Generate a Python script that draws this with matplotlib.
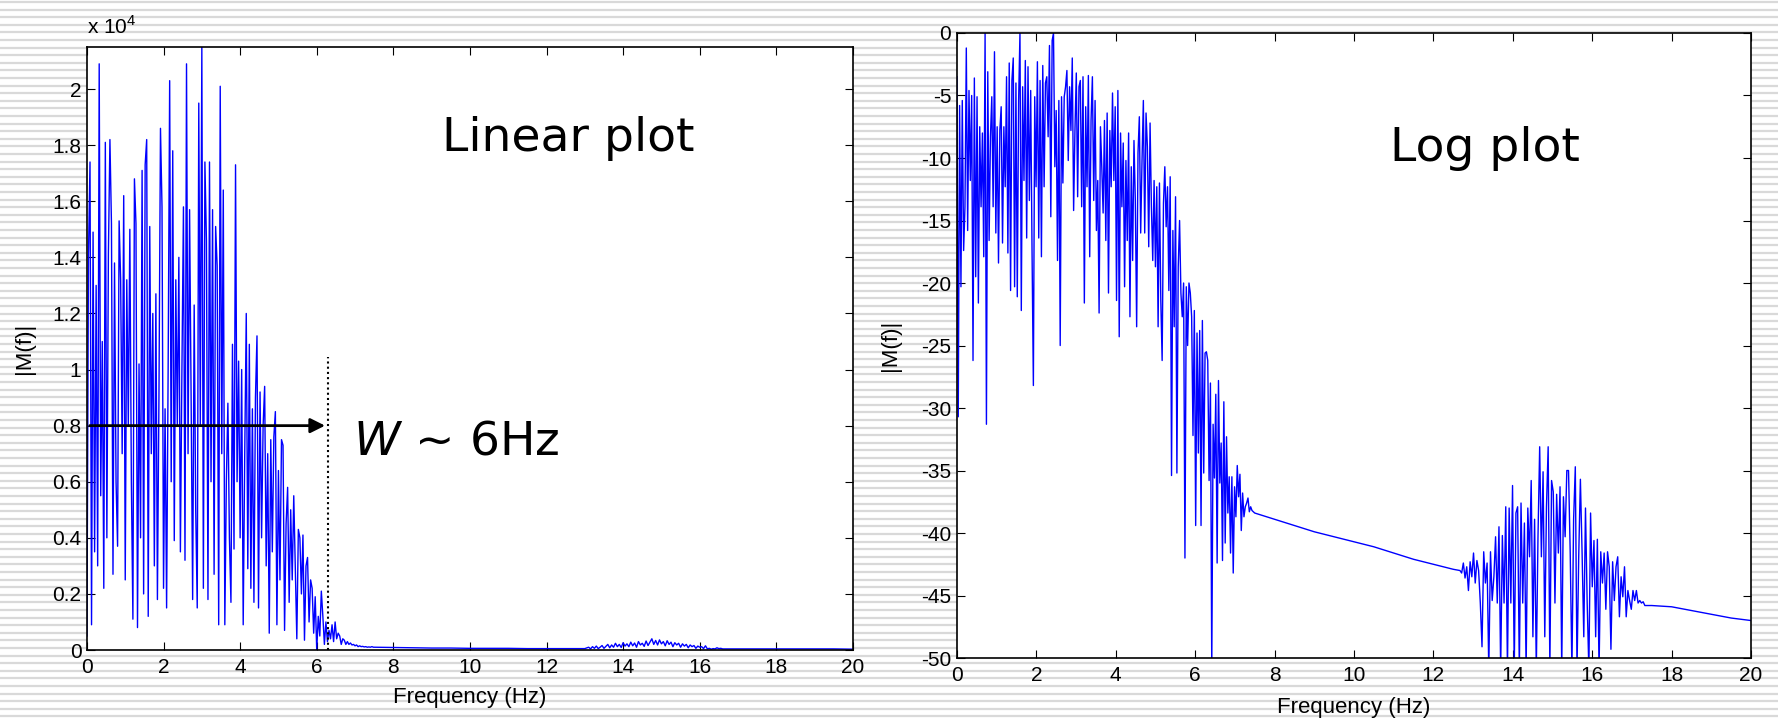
import numpy as np
import matplotlib.pyplot as plt

# spectre |M(f)| en echelle lineaire (unite 1e4), pas de 0.04 Hz de 0 a 7.48 Hz
lin_step = 0.04
lin_low = [
    0.05, 1.41, 1.74, 0.09, 1.49, 0.35, 1.30, 0.30, 2.09, 0.55,
    1.10, 0.22, 1.81, 0.40, 1.41, 1.82, 1.52, 0.27, 1.38, 0.60,
    0.37, 1.53, 1.32, 0.70, 1.62, 0.25, 1.32, 0.80, 1.50, 0.60,
    0.11, 1.68, 1.52, 0.08, 1.02, 0.40, 1.71, 0.20, 1.73, 1.82,
    0.12, 1.51, 0.70, 1.20, 0.30, 1.27, 0.18, 0.90, 1.86, 1.58,
    0.22, 0.86, 0.15, 1.00, 2.03, 0.60, 1.78, 0.39, 1.32, 0.80,
    1.40, 0.35, 1.00, 1.58, 0.32, 2.09, 0.70, 1.57, 0.90, 0.18,
    1.23, 0.50, 0.15, 1.95, 0.80, 2.15, 0.22, 1.74, 1.46, 0.18,
    1.74, 0.60, 1.57, 0.27, 1.51, 1.37, 0.09, 2.01, 0.70, 1.64,
    0.09, 0.60, 0.88, 0.40, 0.17, 1.09, 0.36, 1.73, 0.60, 1.03,
    0.40, 1.00, 0.09, 0.70, 1.20, 0.29, 1.09, 0.22, 0.86, 0.17,
    0.90, 1.12, 0.15, 0.92, 0.40, 0.80, 0.94, 0.30, 0.70, 0.06,
    0.75, 0.35, 0.76, 0.85, 0.09, 0.64, 0.25, 0.75, 0.73, 0.07,
    0.45, 0.58, 0.17, 0.50, 0.25, 0.55, 0.30, 0.04, 0.43, 0.40,
    0.20, 0.41, 0.035, 0.30, 0.33, 0.10, 0.25, 0.22, 0.06, 0.19,
    0.0, 0.12, 0.05, 0.21, 0.12, 0.02, 0.10, 0.03, 0.07, 0.04,
    0.09, 0.03, 0.10, 0.04, 0.06, 0.05, 0.02, 0.04, 0.035, 0.02,
    0.03, 0.02, 0.025, 0.018, 0.02, 0.015, 0.018, 0.012, 0.015, 0.012,
    0.013, 0.011, 0.012, 0.010, 0.011, 0.010, 0.012, 0.010,
]
lin_mid_freq = [7.5, 8.0, 8.5, 9.0, 9.5, 10.0, 10.5, 11.0, 11.5, 12.0, 12.5, 13.0]
lin_mid = [0.010, 0.009, 0.008, 0.007, 0.007, 0.006, 0.006, 0.006, 0.005, 0.005, 0.005, 0.005]
# petite bosse 13.1 - 16.6 Hz
lin_bump_start, lin_bump_end = 13.1, 16.6
lin_bump = [
    0.010, 0.004, 0.012, 0.006, 0.014, 0.005, 0.010, 0.016, 0.006, 0.013,
    0.020, 0.008, 0.018, 0.010, 0.024, 0.012, 0.020, 0.009, 0.026, 0.014,
    0.022, 0.012, 0.028, 0.015, 0.025, 0.010, 0.030, 0.018, 0.024, 0.013,
    0.032, 0.016, 0.028, 0.040, 0.020, 0.034, 0.018, 0.036, 0.022, 0.030,
    0.015, 0.033, 0.020, 0.028, 0.012, 0.026, 0.018, 0.024, 0.010, 0.022,
    0.014, 0.020, 0.008, 0.018, 0.012, 0.016, 0.006, 0.014, 0.010, 0.012,
    0.005, 0.015, 0.004, 0.006, 0.003, 0.005, 0.004, 0.008, 0.005, 0.006, 0.004,
]
lin_end_freq = [17.0, 17.5, 18.0, 18.5, 19.0, 19.5, 20.0]
lin_end = [0.004, 0.004, 0.004, 0.004, 0.004, 0.004, 0.003]
lin_yticks = [0, 0.2, 0.4, 0.6, 0.8, 1.0, 1.2, 1.4, 1.6, 1.8, 2.0]
lin_ylabels = ["0", "0.2", "0.4", "0.6", "0.8", "1", "1.2", "1.4", "1.6", "1.8", "2"]

# spectre en dB, partie bruitee 0 - 7.5 Hz
log_low_end = 7.5
log_low = [
    -3.5, -30.7, -5.8, -20.3, -5.4, -17.4, -13.9, -1.2, -15.8, -4.6,
    -11.8, -5.0, -26.2, -3.6, -19.5, -5.1, -21.6, -7.5, -13.9, -8.0,
    -17.9, 0.0, -31.3, -3.1, -16.6, -8.3, -5.1, -13.9, -1.5, -16.0,
    -7.5, -18.4, -7.8, -5.9, -16.8, -7.5, -12.3, -3.5, -17.6, -2.4,
    -20.6, -3.8, -2.0, -20.3, -4.0, -21.1, -5.4, 0.0, -22.2, -4.3,
    -11.8, -2.2, -16.4, -2.7, -13.4, -4.6, -17.4, -28.2, -5.1, -12.3,
    -2.3, -16.4, -3.8, -17.9, -2.6, -12.3, -4.0, -3.5, -8.3, -1.0,
    -14.7, -0.6, 0.0, -10.7, -6.2, -18.2, -5.4, -25.0, -5.1, -12.0,
    -5.1, -4.3, -3.0, -10.2, -4.3, -7.8, -2.0, -14.2, -7.8, -3.2,
    -13.1, -4.3, -3.8, -13.9, -3.5, -21.6, -5.9, -12.3, -3.4, -17.9,
    -7.0, -3.5, -13.4, -5.4, -15.8, -11.8, -22.4, -7.5, -10.7, -14.4,
    -7.0, -16.6, -6.4, -20.8, -7.8, -12.3, -4.8, -11.8, -5.9, -21.4,
    -4.6, -24.3, -8.0, -13.9, -8.8, -20.3, -10.2, -16.6, -8.0, -22.7,
    -10.7, -18.2, -8.6, -13.4, -23.5, -9.6, -6.7, -16.0, -10.2, -5.4,
    -16.0, -6.4, -9.1, -17.1, -7.2, -13.9, -18.2, -11.8, -18.7, -12.3,
    -23.5, -12.0, -21.4, -26.2, -13.6, -10.7, -15.5, -12.3, -20.6, -11.5,
    -35.4, -15.8, -23.5, -13.1, -35.2, -18.7, -15.0, -20.8, -22.7, -20.0,
    -42.0, -20.3, -25.0, -20.0, -20.8, -22.7, -32.2, -22.2, -39.4, -24.0,
    -33.6, -23.8, -39.4, -23.0, -35.2, -25.6, -25.5, -26.2, -35.8, -28.0,
    -51.0, -31.3, -35.6, -28.9, -42.4, -27.8, -36.0, -32.8, -42.2, -29.5,
    -40.8, -32.3, -38.4, -35.5, -41.6, -35.5, -43.2, -36.3, -38.7, -34.6,
    -37.1, -35.3, -39.8, -36.8, -38.7, -37.9, -37.6, -37.2, -38.3, -37.9,
    -38.2, -38.3, -38.4,
]
log_mid_freq = [8.0, 8.5, 9.0, 9.5, 10.0, 10.5, 11.0, 11.5, 12.0, 12.5]
log_mid = [-38.9, -39.4, -39.9, -40.3, -40.7, -41.1, -41.6, -42.1, -42.5, -42.9]
log_bump_start, log_bump_end = 12.67, 17.37
log_bump = [
    -43.0, -43.2, -42.4, -43.6, -42.7, -44.6, -42.3, -43.5, -41.6, -44.0,
    -42.2, -43.0, -45.6, -49.1, -41.5, -44.0, -42.4, -51.0, -41.5, -45.4,
    -43.5, -40.3, -45.6, -39.5, -51.0, -40.2, -45.6, -37.9, -51.0, -38.0,
    -45.6, -36.2, -51.0, -38.4, -37.9, -51.0, -37.6, -45.6, -39.2, -51.0,
    -38.0, -41.9, -35.8, -48.3, -38.9, -51.0, -40.3, -33.1, -41.9, -35.1,
    -48.3, -37.9, -33.1, -51.0, -35.8, -36.7, -45.6, -36.9, -41.6, -36.3,
    -51.0, -37.1, -40.3, -35.0, -35.0, -41.6, -51.0, -38.9, -34.7, -51.0,
    -41.9, -35.7, -41.6, -48.3, -38.0, -45.6, -51.0, -38.4, -44.3, -40.6,
    -48.3, -40.5, -51.0, -41.5, -44.0, -41.6, -46.1, -41.5, -42.7, -49.3,
    -42.3, -45.4, -42.7, -41.9, -46.7, -43.5, -45.1, -42.7, -46.7, -44.6,
    -45.4, -46.1, -44.6, -45.4, -44.6, -45.6, -45.4, -45.6, -45.5, -45.8, -45.8,
]
log_end_freq = [17.5, 18.0, 18.5, 19.0, 19.5, 20.0]
log_end = [-45.8, -45.9, -46.2, -46.5, -46.8, -47.0]
log_yticks = list(range(-50, 1, 5))

xticks = list(range(0, 21, 2))
W_freq = 6.29
W_level = 0.8
W_top = 1.046

# frequences et amplitudes completes
lin_freq = np.concatenate([np.arange(len(lin_low)) * lin_step, lin_mid_freq,
                           np.linspace(lin_bump_start, lin_bump_end, len(lin_bump)), lin_end_freq])
lin_mag = np.concatenate([lin_low, lin_mid, lin_bump, lin_end])
log_freq = np.concatenate([np.linspace(0, log_low_end, len(log_low)), log_mid_freq,
                           np.linspace(log_bump_start, log_bump_end, len(log_bump)), log_end_freq])
log_mag = np.concatenate([log_low, log_mid, log_bump, log_end])

plt.rcParams['font.family'] = 'Liberation Sans'
plt.rcParams['axes.unicode_minus'] = False
plt.rcParams['mathtext.fontset'] = 'custom'
plt.rcParams['mathtext.rm'] = 'Liberation Sans'
plt.rcParams['mathtext.it'] = 'DejaVu Sans:italic'

fig = plt.figure(figsize=(17.78, 7.22), dpi=100)

# fond raye facon diapo
bg = fig.add_axes([0, 0, 1, 1], zorder=-5)
bg.set_xlim(0, 1)
bg.set_ylim(722, 0)
for y in np.arange(2, 722, 7.6):
    bg.axhline(y, color='#d9d9d9', lw=1.6)
bg.axis('off')


def style(ax):
    ax.set_facecolor('white')
    ax.tick_params(direction='in', length=6, width=0.8, top=True, right=True,
                   labelsize=15, pad=6)
    ax.tick_params(axis='y', pad=4)
    for sp in ax.spines.values():
        sp.set_linewidth(1.2)
    ax.set_xlim(0, 20)
    ax.set_xticks(xticks)


ax1 = fig.add_axes([0.0489, 0.0997, 0.4308, 0.8352])
style(ax1)
ax1.plot(lin_freq, lin_mag, color='#0000ff', lw=1.0)
ax1.set_ylim(0, lin_mag.max())
ax1.set_yticks(lin_yticks)
ax1.set_yticklabels(lin_ylabels)
ax1.set_xlabel("Frequency (Hz)", fontsize=16)
ax1.set_ylabel("|M(f)|", fontsize=16)
ax1.xaxis.set_label_coords(0.5, -0.062)
ax1.yaxis.set_label_coords(-0.068, 0.5)
ax1.annotate('', xy=(W_freq, W_level), xytext=(0, W_level),
             arrowprops=dict(arrowstyle='-|>', color='k', lw=2, mutation_scale=22))
ax1.vlines(W_freq, 0, W_top, colors='k', linestyles=(0, (1, 1.5)), lw=1.5)
ax1.text(9.27, 1.778, "Linear plot", fontsize=34, family='DejaVu Sans', va='baseline')
ax1.text(6.95, 0.696, r"$W$ ~ 6Hz", fontsize=34, family='DejaVu Sans', va='baseline')
fig.text(87 / 1778, 1 - 34 / 722, r"x 10$^{\mathrm{4}}$", fontsize=15, va='baseline')

ax2 = fig.add_axes([0.5382, 0.0886, 0.4466, 0.8657])
style(ax2)
ax2.plot(log_freq, log_mag, color='#0000ff', lw=1.0)
ax2.set_ylim(-50, 0)
ax2.set_yticks(log_yticks)
ax2.set_xlabel("Frequency (Hz)", fontsize=16)
ax2.set_ylabel("|M(f)|", fontsize=16)
ax2.xaxis.set_label_coords(0.5, -0.062)
ax2.yaxis.set_label_coords(-0.07, 0.5)
ax2.text(10.9, -10.24, "Log plot", fontsize=34, family='DejaVu Sans', va='baseline')

fig.savefig("out.png", dpi=100)
